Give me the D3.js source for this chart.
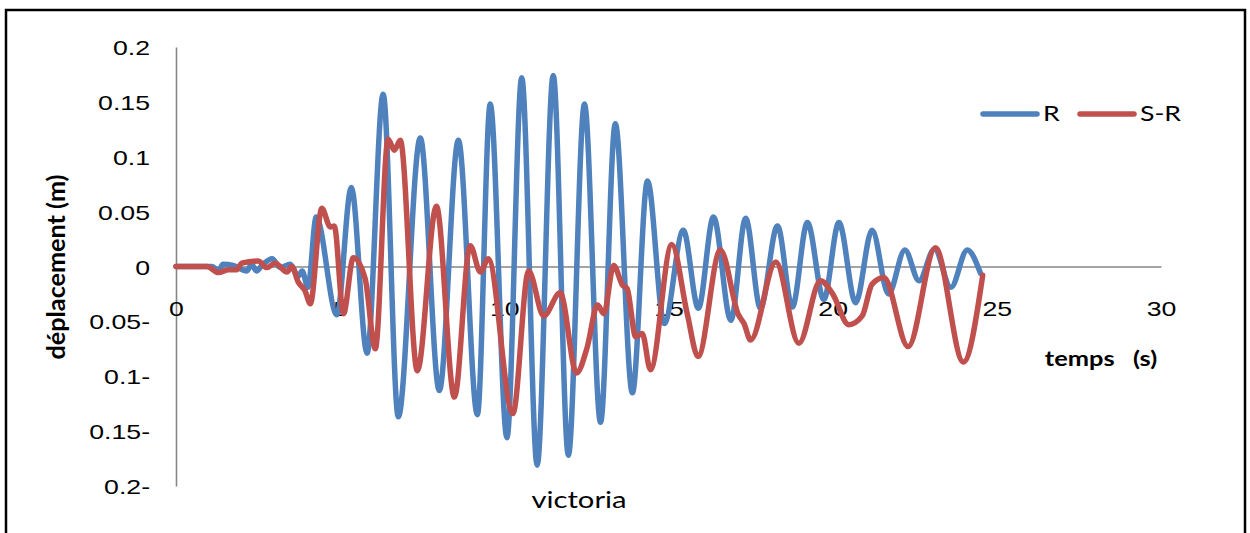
<!DOCTYPE html>
<html><head><meta charset="utf-8">
<script src="https://cdn.jsdelivr.net/npm/d3@7"></script>
<style>
body{margin:0;background:#fff}
svg{display:block}
text{white-space:pre}
</style>
</head><body>
<svg id="c" width="1250" height="533"></svg>
<script>
// ---- data ----
const rTime  = [0, 1.1, 1.3, 1.43, 1.74, 2.16, 2.3, 2.45, 2.62, 2.93, 3.17, 3.48, 3.72, 3.84, 4.02, 4.27, 4.9, 5.34, 5.82, 6.31, 6.77, 7.44, 8.02, 8.6, 9.18, 9.57, 10.08, 10.53, 11.0, 11.49, 11.95, 12.44, 12.93, 13.38, 13.9, 14.36, 14.87, 15.45, 15.91, 16.37, 16.9, 17.35, 17.8, 18.32, 18.77, 19.23, 19.73, 20.19, 20.7, 21.2, 21.7, 22.2, 22.63, 23.1, 23.6, 24.1, 24.5];
const rValue = [0, 0, -0.004, 0.002, 0.001, -0.004, 0.002, -0.004, 0.001, 0.007, -0.001, 0.002, -0.009, -0.004, -0.019, 0.045, -0.044, 0.072, -0.079, 0.157, -0.137, 0.117, -0.113, 0.115, -0.135, 0.148, -0.156, 0.172, -0.181, 0.174, -0.172, 0.148, -0.142, 0.13, -0.115, 0.078, -0.052, 0.033, -0.038, 0.045, -0.049, 0.044, -0.038, 0.037, -0.037, 0.040, -0.03, 0.040, -0.033, 0.033, -0.025, 0.015, -0.013, 0.016, -0.019, 0.015, -0.006];

const srTime  = [0, 0.94, 1.29, 1.6, 1.85, 2.0, 2.5, 2.77, 3.02, 3.38, 3.53, 3.72, 3.93, 4.09, 4.44, 4.7, 4.82, 5.1, 5.4, 5.76, 6.07, 6.46, 6.65, 6.83, 7.35, 7.93, 8.48, 8.96, 9.27, 9.51, 10.26, 10.74, 11.2, 11.7, 12.2, 12.52, 12.84, 13.03, 13.33, 13.6, 13.74, 14.0, 14.2, 14.45, 15.1, 15.57, 15.9, 16.58, 17.13, 17.3, 17.5, 18.27, 18.97, 19.63, 20.0, 20.49, 20.9, 21.2, 21.56, 22.3, 23.13, 23.98, 24.57];
const srValue = [0, 0, -0.0055, -0.003, -0.003, 0.003, 0.005, -0.001, 0.003, -0.005, 0, -0.014, -0.022, -0.034, 0.053, 0.036, 0.037, -0.043, 0.008, -0.011, -0.075, 0.116, 0.106, 0.115, -0.095, 0.055, -0.119, 0.019, -0.005, 0.007, -0.134, -0.004, -0.045, -0.024, -0.097, -0.074, -0.035, -0.043, 0.001, -0.017, -0.02, -0.064, -0.061, -0.094, 0.02, -0.043, -0.082, 0.015, -0.044, -0.052, -0.067, 0.004, -0.07, -0.013, -0.025, -0.053, -0.045, -0.016, -0.01, -0.073, 0.017, -0.087, -0.008];

const seriesNames  = ["R", "S-R"];
const seriesColors = ["#4F81BD", "#C0504D"];
const xTicks = [0, 5, 10, 15, 20, 25, 30];
const xTickLabels = ["0", "5", "10", "15", "20", "25", "30"];
const yTicks = [0.2, 0.15, 0.1, 0.05, 0, -0.05, -0.1, -0.15, -0.2];
const yTickLabels = ["0.2", "0.15", "0.1", "0.05", "0", "0.05-", "0.1-", "0.15-", "0.2-"];
const xTitle = "temps   (s)";
const yTitle = "déplacement (m)";
const chartTitle = "victoria";

// ---- drawing ----
const svg = d3.select("#c");
const SX = 1.27; // horizontal stretch of the reference text

svg.append("rect").attr("x", 6).attr("y", 10).attr("width", 1239).attr("height", 540)
  .attr("fill", "#fff").attr("stroke", "#000").attr("stroke-width", 2.5);

const x = d3.scaleLinear().domain([0, 30]).range([176, 1161]);
const y = d3.scaleLinear().domain([-0.2, 0.2]).range([486, 47]);

// y axis
const yAxis = svg.append("g").attr("transform", `translate(${x(0)},0)`)
  .call(d3.axisLeft(y).tickValues(yTicks).tickSize(0).tickSizeOuter(0)
    .tickFormat((d, i) => yTickLabels[i]));
yAxis.select(".domain").attr("stroke", "#868686").attr("stroke-width", 1.6);
yAxis.selectAll(".tick text")
  .attr("x", -26 / SX).attr("dy", "0.36em")
  .attr("transform", `scale(${SX},1)`)
  .attr("text-anchor", "end")
  .attr("font-family", "Liberation Sans, Arial, sans-serif")
  .attr("font-size", 21).attr("fill", "#000");

// x axis at y = 0
const xAxis = svg.append("g").attr("transform", `translate(0,${y(0)})`)
  .call(d3.axisBottom(x).tickValues(xTicks).tickSize(0).tickSizeOuter(0)
    .tickFormat((d, i) => xTickLabels[i]));
xAxis.select(".domain").attr("stroke", "#868686").attr("stroke-width", 1.6);
xAxis.selectAll(".tick text")
  .attr("y", 41.5).attr("dy", "0.36em").attr("x", 0)
  .attr("transform", `scale(${SX},1)`)
  .attr("text-anchor", "middle")
  .attr("font-family", "Liberation Sans, Arial, sans-serif")
  .attr("font-size", 21).attr("fill", "#000");

// lines
const line = d3.line().x(d => x(d[0])).y(d => y(d[1])).curve(d3.curveMonotoneX);
const series = [d3.zip(rTime, rValue), d3.zip(srTime, srValue)];
series.forEach((pts, i) => {
  svg.append("path").datum(pts).attr("d", line)
    .attr("fill", "none").attr("stroke", seriesColors[i])
    .attr("stroke-width", 5.5).attr("stroke-linejoin", "round").attr("stroke-linecap", "round");
});

// legend
const legX = [983, 1080];
seriesNames.forEach((n, i) => {
  svg.append("line").attr("x1", legX[i]).attr("x2", legX[i] + 54)
    .attr("y1", 114).attr("y2", 114).attr("stroke", seriesColors[i])
    .attr("stroke-width", 5.5).attr("stroke-linecap", "round");
  svg.append("text").attr("transform", `translate(${legX[i] + 60},114) scale(${SX},1)`)
    .attr("dy", "0.35em").attr("font-family", "Lato, Carlito, sans-serif")
    .attr("font-size", 21).attr("fill", "#000").text(n);
});

// axis titles
svg.append("text").attr("transform", `translate(1101,359) scale(${SX},1)`)
  .attr("text-anchor", "middle").attr("dy", "0.35em")
  .attr("font-family", "Lato, Carlito, sans-serif").attr("font-weight", "bold")
  .attr("font-size", 20).attr("fill", "#000").text(xTitle);

svg.append("text").attr("transform", `translate(56,267) scale(${SX},1) rotate(-90)`)
  .attr("text-anchor", "middle").attr("dy", "0.35em")
  .attr("font-family", "Lato, Carlito, sans-serif").attr("font-weight", "bold")
  .attr("font-size", 20).attr("fill", "#000")
  .attr("textLength", 185).attr("lengthAdjust", "spacingAndGlyphs").text(yTitle);

// chart caption
svg.append("text").attr("transform", `translate(579,500) scale(${SX},1)`)
  .attr("text-anchor", "middle").attr("dy", "0.35em")
  .attr("font-family", "Lato, Carlito, sans-serif")
  .attr("font-size", 23).attr("fill", "#000").text(chartTitle);
</script>
</body></html>
